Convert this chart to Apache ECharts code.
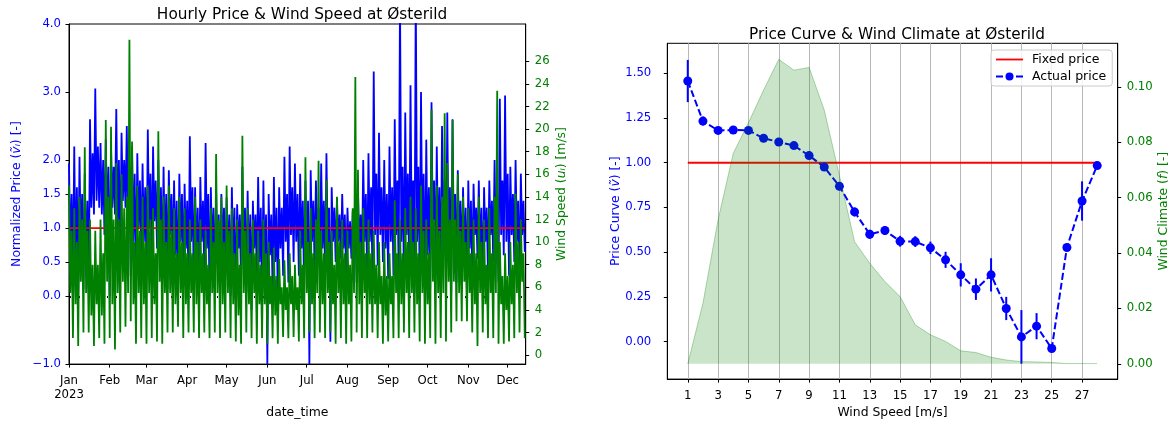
<!DOCTYPE html>
<html lang="en">
<head>
<meta charset="UTF-8">
<title>Price &amp; Wind at Østerild</title>
<script src="https://cdn.jsdelivr.net/npm/echarts@6/dist/echarts.min.js"></script>
<style>
	html, body { margin: 0; padding: 0; background: #fff; }
	#chart { width: 1175px; height: 424px; }
</style>
</head>
<body>
<div id="chart"></div>
<script>
// ---- left panel: hourly series, one value per day (day 0 = 1 Jan 2023), peaks and dips
var priceDaily = [
	1.95,0.6,1.5,0.3, 2.2,0.4,1.6,0.05, 2.05,0.7,1.5,0.1, 1.8,0.5,1.4,0.05,
	2.6,1.3,2.1,1.2, 3.05,1.4,2.2,1.3, 2.25,1.2,2.0,0.9, 2.3,1.1,1.9,0.0,
	2.2,1.3,1.9,1.2, 2.75,1.0,2.0,0.5, 2.4,1.4,2.0,1.3, 2.5,0.9,1.9,0.3,
	2.2,0.8,1.8,0.2, 2.1,1.0,1.7,0.6, 1.95,0.8,1.6,0.35, 2.45,1.0,1.8,0.5,
	2.2,1.1,1.7,0.7, 2.0,0.7,1.6,0.25, 1.9,0.6,1.5,0.1, 1.85,0.9,1.5,0.5,
	1.7,0.6,1.4,0.0, 1.8,0.8,1.5,0.3, 1.65,0.7,1.4,0.1, 2.35,0.8,1.6,0.2,
	1.6,0.6,1.3,0.05, 1.75,0.8,1.4,0.35, 2.25,0.7,1.5,0.0, 1.6,0.6,1.3,0.15,
	1.55,0.5,1.2,-0.05, 1.5,0.7,1.3,0.3, 1.45,0.6,1.2,0.0, 1.6,0.5,1.3,-0.1,
	1.35,0.7,1.2,0.2, 1.9,0.6,1.3,0.05, 1.55,0.4,1.2,-0.2, 1.4,0.7,1.2,0.3,
	1.75,0.5,1.3,-0.15, 1.7,0.4,1.2,-1.0, 1.5,0.6,1.2,0.1, 1.75,0.5,1.3,-0.1,
	1.6,0.7,1.3,0.3, 2.05,0.8,1.5,0.2, 2.2,0.9,1.6,0.5, 1.95,0.8,1.5,0.3,
	1.8,0.7,1.4,0.1, 1.7,0.6,1.4,-1.0, 1.85,0.8,1.4,0.4, 1.7,0.8,1.3,0.5,
	1.95,0.7,1.4,0.3, 2.1,0.7,1.3,-0.67, 1.6,0.8,1.3,0.5, 1.45,0.8,1.2,0.55,
	1.5,0.7,1.2,0.3, 1.3,0.7,1.1,0.55, 1.25,0.6,1.1,0.2, 1.55,0.7,1.2,0.4,
	2.0,0.8,1.5,0.3, 2.1,0.8,1.6,0.35, 3.3,0.9,1.8,0.45, 2.4,0.9,1.6,0.5,
	2.0,0.7,1.5,0.25, 2.2,0.8,1.6,0.3, 2.6,0.9,1.7,0.35, 4.4,0.8,1.9,0.2,
	2.7,0.9,1.8,0.3, 3.1,0.7,1.7,0.05, 4.5,0.8,1.9,0.2, 3.0,0.7,1.8,0.0,
	2.3,0.6,1.6,0.1, 2.85,0.8,1.7,0.35, 2.2,0.6,1.6,0.05, 2.5,0.8,1.7,0.3,
	2.7,0.6,1.6,0.05, 2.6,0.7,1.5,0.2, 1.85,0.8,1.4,0.45, 1.6,0.6,1.3,0.0,
	1.7,0.7,1.4,0.25, 1.65,0.9,1.3,0.55, 1.7,0.6,1.3,0.05, 1.6,0.8,1.3,0.3,
	1.7,0.9,1.4,0.5, 2.0,0.7,1.5,0.2, 2.9,0.9,1.7,0.6, 2.95,0.8,1.8,0.3,
	1.9,0.9,1.5,0.5, 2.0,0.8,1.4,0.2, 1.8,0.9,1.4,0.65
];
var windDaily = [
	15,5.5,11,1.5, 13,4.5,10,0.8, 14,6.5,12,2, 18.4,5.5,11,2,
	12,3.5,8,0.8, 11,4.5,8,1.5, 12,3.5,9,1.0, 20.8,6.5,14,1.5,
	20.2,4.5,12,0.5, 17,5.5,12,2, 16,6.5,13,2.5, 14,5.5,27.9,3,
	18.9,4.5,10,1.0, 15,5.5,11,1.5, 14,4.5,10,1.0, 15,5.5,12,1.5,
	13,4.5,9,1.2, 19.8,6.5,12,1.0, 14,5.5,10,2, 15,5.5,11,2,
	13,4.5,9,2.5, 14,5.5,10,1.5, 13,4.5,9,2, 12,5.5,9,2,
	14,4.5,10,1.5, 12,5.5,9,2, 11,4.5,8,1.5, 13,5.5,10,2,
	17.8,5.5,12,1.5, 14,4.5,10,2, 15,5.5,11,1.5, 13,4.5,9,1.2,
	12,3.5,8,1.0, 19.4,5.5,11,2, 13,4.5,9,1.5, 12,5.5,9,1.0,
	11,4.5,8,1.5, 12,4.5,9,1.0, 10,4.5,7,1.5, 9.5,3.5,7,1.0,
	8.5,4.5,6,1.6, 8.4,4,6,1.5, 9,4.5,7,1.6, 8,4,6,1.2,
	11,4.5,8,1.5, 17.5,5.5,10,2, 13,4.5,9,1.5, 12,5.5,17.2,2,
	11,4.5,9,1.5, 15.5,5.5,10,2, 11,4.5,8,1.0, 14,5.5,10,1.5,
	12,4.5,9,1.0, 11,4.5,8,1.2, 13,5.5,24.6,2, 16.4,4.5,10,1.5,
	13,5.5,9,1.5, 12,4.5,9,2, 11,4.5,8,1.5, 10,4.5,7,1.0,
	10,3.5,7,1.2, 9,4.5,7,1.5, 13.7,5.5,9,1.5, 12,4.5,9,2,
	13,5.5,10,1.5, 14,5.5,10,2, 13,4.5,9,1.2, 15,5.5,11,1.0,
	12,4.5,9,1.5, 21.7,6.5,12,1.0, 15,5.5,11,1.5, 14,5.5,21.4,1.2,
	17,6.5,12,2, 20.8,6.5,12,3, 16,5.5,11,3, 14,6.5,10,3,
	13,5.5,9,2, 12,4.5,9,0.8, 14,5.5,10,2, 12,4.5,8,1.5,
	13,5.5,9,1.5, 14,5.5,23.4,1.0, 10,4.5,7,1.0, 9,4,7,1.2,
	10,4.5,8,1.5, 14.3,5.5,10,2, 12,6.5,9,1.5
];
var fixedPrice = 1.0;
var monthNames = ['Jan','Feb','Mar','Apr','May','Jun','Jul','Aug','Sep','Oct','Nov','Dec'];
var monthStarts = [0,31,59,90,120,151,181,212,243,273,304,334];
var priceTicks = [-1,0,0.5,1,1.5,2,3,4];
var windTicks = [0,2,4,6,8,10,12,14,16,18,20,22,24,26];

// ---- right panel: price curve per wind speed bin + wind climate
var windBins = [1,2,3,4,5,6,7,8,9,10,11,12,13,14,15,16,17,18,19,20,21,22,23,24,25,26,27,28];
var priceCurve = [1.457,1.233,1.181,1.183,1.181,1.137,1.116,1.096,1.040,0.976,0.868,0.725,0.600,0.621,
	0.561,0.559,0.524,0.457,0.373,0.293,0.373,0.185,0.026,0.086,-0.039,0.526,0.786,0.984];
var priceErr = [0.118,0.025,0.012,0.01,0.01,0.012,0.012,0.015,0.015,0.018,0.02,0.025,0.025,0.025,
	0.03,0.03,0.035,0.045,0.065,0.06,0.093,0.065,0.15,0.073,0.015,0.02,0.11,0.015];
var windClimate = [0,0.0219,0.052,0.076,0.087,0.0988,0.1099,0.106,0.107,0.0916,0.068,0.0441,0.0363,0.0297,
	0.0243,0.0141,0.0105,0.0081,0.0047,0.0041,0.0024,0.0014,0.0008,0.0007,0.0005,0.0001,0.0001,0.0001];
var binTicks = [1,3,5,7,9,11,13,15,17,19,21,23,25,27];
var curveTicks = [0,0.25,0.5,0.75,1.0,1.25,1.5];
var climateTicks = [0,0.02,0.04,0.06,0.08,0.10];

var BLUE = '#0000ff', GREEN = '#008000', RED = '#ff0000';
var FONT = 'DejaVu Sans';
var TICK = 11.7, NAME = 12.4;

function fmt(v, d) {
	return v.toFixed(d).replace('-', '\u2212');
}

// rich axis name with an italic symbol
function nameStyle(color) {
	return {color: color, fontSize: NAME,
		rich: {n: {color: color, fontSize: NAME}, i: {color: color, fontSize: NAME, fontStyle: 'italic'}}};
}

// weekly minor ticks (Mondays) on the date axis
var mondays = [];
for (var d = 1; d < 348; d += 7) {
	if (monthStarts.indexOf(d) < 0) mondays.push(d);
}

var chart = echarts.init(document.getElementById('chart'), null, {renderer: 'canvas'});

var option = {
	animation: false,
	textStyle: {fontFamily: FONT},
	title: [
		{text: 'Hourly Price & Wind Speed at Østerild', left: 297, top: 3, textAlign: 'center',
			textStyle: {fontSize: 15.3, fontWeight: 'normal', color: '#000', fontFamily: FONT}},
		{text: 'Price Curve & Wind Climate at Østerild', left: 892, top: 23, textAlign: 'center',
			textStyle: {fontSize: 15.3, fontWeight: 'normal', color: '#000', fontFamily: FONT}}
	],
	legend: {
		data: [
			{name: 'Fixed price', icon: 'path://M0,0L27,0L27,1.8L0,1.8Z'},
			{name: 'Actual price'}
		],
		orient: 'vertical', left: 991, top: 50,
		itemWidth: 27, itemHeight: 10, itemGap: 4,
		padding: [3, 6, 3, 4],
		backgroundColor: 'rgba(255,255,255,0.8)',
		borderColor: '#cccccc', borderWidth: 1, borderRadius: 3,
		textStyle: {fontSize: 12.5, color: '#000', fontFamily: FONT, padding: [0, 0, 0, 4]}
	},
	grid: [
		{left: 69, top: 24, width: 456.7, height: 340.3, show: true, borderColor: '#000', borderWidth: 1},
		{left: 667.3, top: 43.3, width: 450.4, height: 336, show: true, borderColor: '#000', borderWidth: 1}
	],
	xAxis: [
		{
			gridIndex: 0, type: 'value', min: 0, max: 347.7, position: 'bottom',
			axisLine: {show: true, onZero: false, lineStyle: {color: '#000'}},
			axisTick: {show: true, length: 3.5, customValues: monthStarts, lineStyle: {color: '#000'}},
			axisLabel: {
				customValues: monthStarts, color: '#000', fontSize: TICK, margin: 10, lineHeight: 14,
				formatter: function (v) {
					var k = monthStarts.indexOf(Math.round(v));
					if (k < 0) return '';
					return k === 0 ? monthNames[k] + '\n2023' : monthNames[k];
				}
			},
			splitLine: {show: false},
			name: 'date_time', nameLocation: 'middle', nameGap: 42,
			nameTextStyle: {color: '#000', fontSize: NAME}
		},
		{
			gridIndex: 0, type: 'value', min: 0, max: 347.7, position: 'bottom',
			axisLine: {show: false},
			axisTick: {show: true, length: 2, customValues: mondays, lineStyle: {color: '#000'}},
			axisLabel: {show: false},
			splitLine: {show: false}
		},
		{
			gridIndex: 1, type: 'value', min: -0.35, max: 29.35, position: 'bottom',
			axisLine: {show: true, onZero: false, lineStyle: {color: '#000'}},
			axisTick: {show: true, length: 3.5, customValues: binTicks, lineStyle: {color: '#000'}},
			axisLabel: {customValues: binTicks, color: '#000', fontSize: TICK, margin: 11},
			splitLine: {show: true, lineStyle: {color: '#b8b8b8', width: 1}},
			name: 'Wind Speed [m/s]', nameLocation: 'middle', nameGap: 27,
			nameTextStyle: {color: '#000', fontSize: NAME}
		}
	],
	yAxis: [
		{
			gridIndex: 0, type: 'value', min: -1, max: 4, position: 'left',
			axisLine: {show: true, onZero: false, lineStyle: {color: '#000'}},
			axisTick: {show: true, length: 3.5, customValues: priceTicks, lineStyle: {color: '#000'}},
			axisLabel: {customValues: priceTicks, color: BLUE, fontSize: TICK, margin: 8,
				formatter: function (v) { return fmt(v, 1); }},
			splitLine: {show: false},
			name: '{n|Normalized Price (}{i|ṽᵢ}{n|) [-]}', nameLocation: 'middle', nameGap: 46, nameRotate: 90,
			nameTextStyle: nameStyle(BLUE)
		},
		{
			gridIndex: 0, type: 'value', min: -0.8, max: 29.3, position: 'right',
			axisLine: {show: true, onZero: false, lineStyle: {color: '#000'}},
			axisTick: {show: true, length: 3.5, customValues: windTicks, lineStyle: {color: '#000'}},
			axisLabel: {customValues: windTicks, color: GREEN, fontSize: TICK, margin: 9},
			splitLine: {show: false},
			name: '{n|Wind Speed (}{i|uᵢ}{n|) [m/s]}', nameLocation: 'middle', nameGap: 30, nameRotate: 90,
			nameTextStyle: nameStyle(GREEN)
		},
		{
			gridIndex: 1, type: 'value', min: -0.21, max: 1.668, position: 'left',
			axisLine: {show: true, onZero: false, lineStyle: {color: '#000'}},
			axisTick: {show: true, length: 3.5, customValues: curveTicks, lineStyle: {color: '#000'}},
			axisLabel: {customValues: curveTicks, color: BLUE, fontSize: TICK, margin: 16,
				formatter: function (v) { return fmt(v, 2); }},
			splitLine: {show: false},
			name: '{n|Price Curve (}{i|ṽ}{n|) [-]}', nameLocation: 'middle', nameGap: 44, nameRotate: 90,
			nameTextStyle: nameStyle(BLUE)
		},
		{
			gridIndex: 1, type: 'value', min: -0.0055, max: 0.1157, position: 'right',
			axisLine: {show: true, onZero: false, lineStyle: {color: '#000'}},
			axisTick: {show: true, length: 3.5, customValues: climateTicks, lineStyle: {color: '#000'}},
			axisLabel: {customValues: climateTicks, color: GREEN, fontSize: TICK, margin: 9,
				formatter: function (v) { return fmt(v, 2); }},
			splitLine: {show: false},
			name: '{n|Wind Climate (}{i|f}{n|) [-]}', nameLocation: 'middle', nameGap: 40, nameRotate: 90,
			nameTextStyle: nameStyle(GREEN)
		}
	],
	series: [
		{
			type: 'line', xAxisIndex: 0, yAxisIndex: 0, symbol: 'none',
			data: priceDaily.map(function (v, i) { return [i, v]; }),
			lineStyle: {color: BLUE, width: 1.8}, itemStyle: {color: BLUE}, z: 2
		},
		{
			type: 'line', xAxisIndex: 0, yAxisIndex: 0, symbol: 'none',
			data: [[0, fixedPrice], [priceDaily.length - 1, fixedPrice]],
			lineStyle: {color: RED, width: 1.8}, z: 3
		},
		{
			type: 'line', xAxisIndex: 0, yAxisIndex: 1, symbol: 'none',
			data: windDaily.map(function (v, i) { return [i, v]; }),
			lineStyle: {color: GREEN, width: 1.8}, itemStyle: {color: GREEN}, z: 4
		},
		{
			name: 'Fixed price', type: 'line', xAxisIndex: 2, yAxisIndex: 2, symbol: 'none',
			data: [[windBins[0], fixedPrice], [windBins[windBins.length - 1], fixedPrice]],
			lineStyle: {color: RED, width: 1.8}, itemStyle: {color: RED}, z: 2
		},
		{
			type: 'custom', xAxisIndex: 2, yAxisIndex: 2,
			data: windBins.map(function (w, i) {
				return [w, priceCurve[i] - priceErr[i], priceCurve[i] + priceErr[i]];
			}),
			encode: {x: 0, y: [1, 2]},
			renderItem: function (params, api) {
				var lo = api.coord([api.value(0), api.value(1)]);
				var hi = api.coord([api.value(0), api.value(2)]);
				return {type: 'line', shape: {x1: lo[0], y1: lo[1], x2: hi[0], y2: hi[1]},
					style: {stroke: BLUE, lineWidth: 2}};
			},
			z: 3
		},
		{
			name: 'Actual price', type: 'line', xAxisIndex: 2, yAxisIndex: 2,
			symbol: 'circle', symbolSize: 9, showSymbol: true,
			data: windBins.map(function (w, i) { return [w, priceCurve[i]]; }),
			lineStyle: {color: BLUE, width: 2, type: [7, 3]}, itemStyle: {color: BLUE}, z: 3
		},
		{
			type: 'line', xAxisIndex: 2, yAxisIndex: 3, symbol: 'none',
			data: windBins.map(function (w, i) { return [w, windClimate[i]]; }),
			lineStyle: {color: 'rgba(0,128,0,0.3)', width: 1},
			areaStyle: {color: 'rgba(0,128,0,0.3)', origin: 0},
			z: 6
		}
	]
};

chart.setOption(option);
</script>
</body>
</html>
